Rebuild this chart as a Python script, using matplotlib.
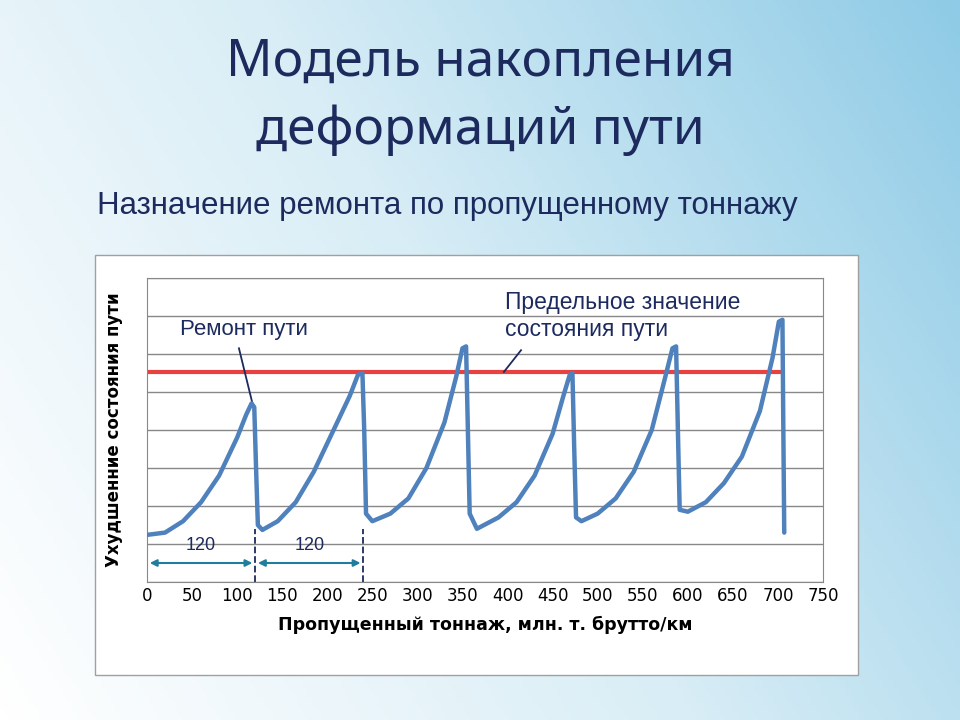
import numpy as np
import matplotlib
matplotlib.use("Agg")
import matplotlib.pyplot as plt
from matplotlib.patches import Rectangle

x_vals = [0,20,40,60,80,100,110,116,119,121,123,128,
          145,165,185,205,225,234,239,241,243,250,
          270,290,310,330,343,350,354,356,358,366,
          390,410,430,450,462,469,472,474,476,482,
          500,520,540,560,574,583,587,589,591,600,
          620,640,660,680,694,701,705,706,707]
y_vals = [1.24,1.3,1.6,2.1,2.8,3.8,4.4,4.7,4.6,3.0,1.5,1.37,
          1.6,2.1,2.9,3.9,4.9,5.45,5.5,4.0,1.8,1.6,
          1.8,2.2,3.0,4.2,5.4,6.15,6.2,4.0,1.8,1.4,
          1.7,2.1,2.8,3.9,4.9,5.45,5.5,3.5,1.7,1.6,
          1.8,2.2,2.9,4.0,5.3,6.15,6.2,4.0,1.9,1.85,
          2.1,2.6,3.3,4.5,5.9,6.85,6.9,4.0,1.3]
limit_value = 5.53
limit_x = [0, 705]
x_ticks = list(range(0, 751, 50))

fig = plt.figure(figsize=(9.6, 7.2), dpi=100)
bg = fig.add_axes([0, 0, 1, 1])
gx = np.linspace(0, 1, 200)
gy = np.linspace(0, 1, 200)
GX, GY = np.meshgrid(gx, gy)
grad = 0.55 * GX + 0.25 * (1 - GY)
bg.imshow(grad, cmap=matplotlib.colors.LinearSegmentedColormap.from_list(
    "b", ["#ffffff", "#d8edf6", "#8fcbe6"]), extent=[0, 1, 0, 1], aspect="auto", origin="upper")
bg.set_xlim(0, 1); bg.set_ylim(0, 1); bg.axis("off")
bg.add_patch(Rectangle((95/960, 1-675/720), 763/960, 420/720, facecolor="white",
                       edgecolor="#a0a0a0", lw=1))
bg.text(480/960, 1-62/720, "Модель накопления", ha="center", va="center",
        fontsize=37, color="#1c2a5e", family="Noto Sans")
bg.text(480/960, 1-130/720, "деформаций пути", ha="center", va="center",
        fontsize=37, color="#1c2a5e", family="Noto Sans")
bg.text(97/960, 1-206/720, "Назначение ремонта по пропущенному тоннажу", ha="left", va="center",
        fontsize=22.5, color="#1c2a5e", family="Liberation Sans")

ax = fig.add_axes([147/960, 138/720, 676/960, 304/720])
ax.set_xlim(0, 750); ax.set_ylim(0, 8)
ax.set_yticks(range(0, 9)); ax.set_yticklabels([])
ax.set_xticks(x_ticks)
ax.tick_params(axis="y", length=0)
ax.tick_params(axis="x", length=0, labelsize=12)
ax.grid(axis="y", color="#888888", lw=1)
for s in ax.spines.values():
    s.set_color("#888888")
ax.plot(limit_x, [limit_value]*2, color="#e8413f", lw=3, zorder=2)
ax.plot(x_vals, y_vals, color="#4f81bd", lw=3.2, zorder=3,
        solid_joinstyle="round", solid_capstyle="round")
ax.set_xlabel("Пропущенный тоннаж, млн. т. брутто/км", fontsize=12.5, fontweight="bold", labelpad=8)
ax.set_ylabel("Ухудшенние состояния пути", fontsize=12, fontweight="bold", labelpad=14)

for xv in [120, 240]:
    ax.plot([xv, xv], [0, 1.4], ls="--", color="#1c2a5e", lw=1.3)
for a, b in [(0, 120), (120, 240)]:
    ax.annotate("", xy=(b, 0.5), xytext=(a, 0.5),
                arrowprops=dict(arrowstyle="<|-|>", color="#1f7d9e", lw=1.5, mutation_scale=10))
    ax.text((a+b)/2, 0.95, "120", ha="center", va="center", fontsize=13, color="#1c2a5e",
            family="Liberation Sans")
ax.text(37, 6.65, "Ремонт пути", fontsize=16, color="#1c2a5e", va="center", family="Liberation Sans")
ax.plot([102, 117], [6.15, 4.7], color="#1c2a5e", lw=1.3)
ax.text(397, 7.0, "Предельное значение\nсостояния пути", fontsize=16.5, color="#1c2a5e",
        va="center", linespacing=1.2, family="Liberation Sans")
ax.plot([415, 396], [6.1, 5.53], color="#1c2a5e", lw=1.3)

fig.savefig("out.png", dpi=100)
